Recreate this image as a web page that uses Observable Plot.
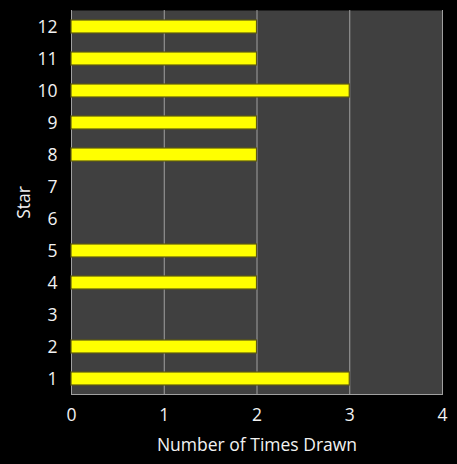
<!DOCTYPE html>
<html><head><meta charset="utf-8">
<script src="https://cdn.jsdelivr.net/npm/d3@7"></script>
<script src="https://cdn.jsdelivr.net/npm/@observablehq/plot@0.6"></script>
<style>
html,body{margin:0;padding:0;background:#000;}
#chart svg{display:block;}
</style>
</head><body><div id="chart"></div>
<script>
const stars = ["1","2","3","4","5","6","7","8","9","10","11","12"];
const timesDrawn = [3,2,0,2,2,0,0,2,2,3,2,2];
const xTicks = [0,1,2,3,4];
const xLabel = "Number of Times Drawn";
const yLabel = "Star";

const data = stars.map((s,i)=>({star:s, count:timesDrawn[i]})).filter(d=>d.count>0);

const chart = Plot.plot({
  width: 457, height: 464,
  marginLeft: 71, marginRight: 15, marginTop: 10, marginBottom: 70,
  style: {background:"#000", color:"#f2f2f2", fontFamily:"'Open Sans', sans-serif", fontSize:"17.5px"},
  x: {domain:[0,4], ticks:xTicks, tickFormat:"d", tickSize:0, tickPadding:14, label:xLabel, labelAnchor:"center", labelOffset:56, labelArrow:"none"},
  y: {domain: stars.slice().reverse(), paddingInner:0.6, paddingOuter:0.3, tickSize:0, tickPadding:14, label:yLabel, labelAnchor:"center", labelOffset:54, labelArrow:"none"},
  marks: [
    Plot.frame({fill:"#404040", stroke:null}),
    Plot.ruleX(xTicks, {stroke:"#a0a0a0", strokeWidth:1}),
    Plot.barX(data, {x:"count", y:"star", fill:"#ffff00", stroke:"#5e5a12", strokeWidth:1.2}),
    Plot.frame({anchor:"bottom", stroke:"#a0a0a0"})
  ]
});
document.getElementById("chart").appendChild(chart);
</script>
</body></html>
